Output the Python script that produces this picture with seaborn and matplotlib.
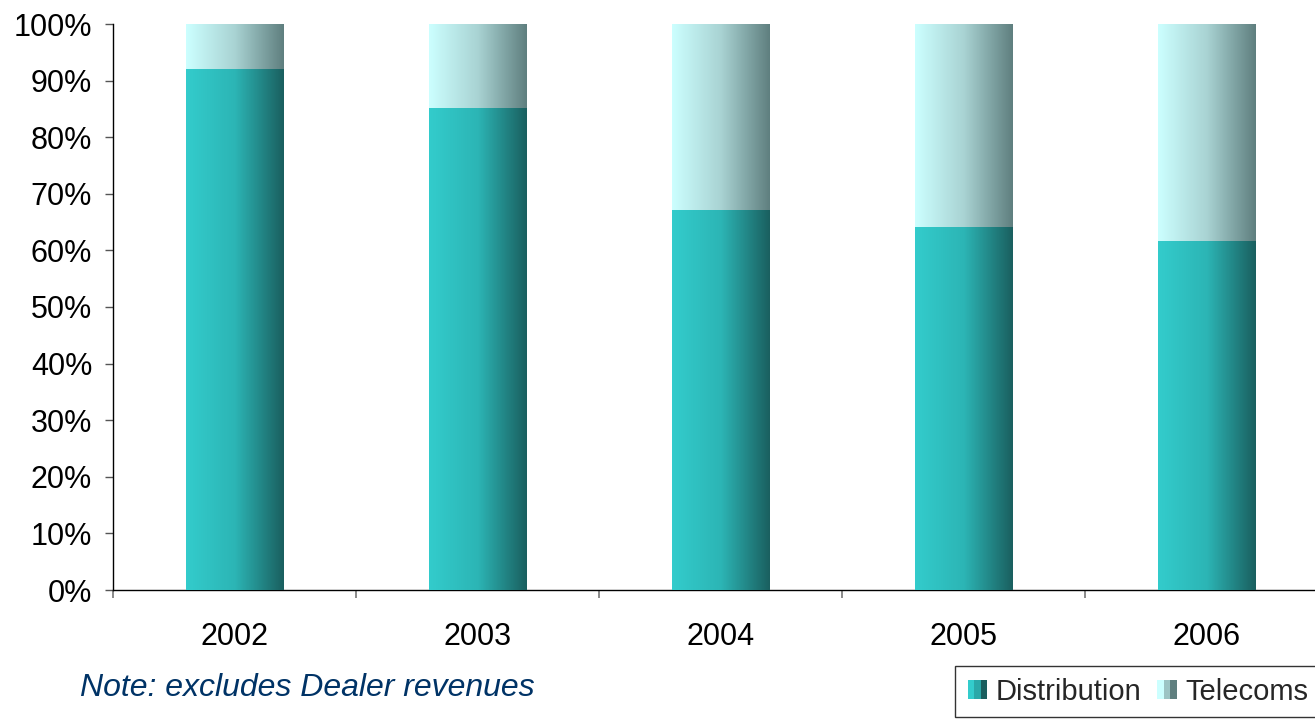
import numpy as np
import pandas as pd
import matplotlib
matplotlib.use("Agg")
import matplotlib.pyplot as plt
import seaborn as sns
from matplotlib.colors import LinearSegmentedColormap
from matplotlib.legend_handler import HandlerBase
from matplotlib.patches import Rectangle

# Revenue split by year (% of total, excluding Dealer revenues)
years = ["2002", "2003", "2004", "2005", "2006"]
distribution = [92, 85, 67, 64, 61.5]
telecoms = [8, 15, 33, 36, 38.5]
series_names = ["Distribution", "Telecoms"]
y_ticks = list(range(0, 101, 10))

dist_cmap = LinearSegmentedColormap.from_list("dist", ["#33CCCC", "#2CB5B5", "#1A5F5F"])
tel_cmap = LinearSegmentedColormap.from_list("tel", ["#CCFFFF", "#A9D3D3", "#5F7F7F"])

sns.set_theme(style="white")
plt.rcParams["font.family"] = ["Liberation Sans", "DejaVu Sans"]

fig = plt.figure(figsize=(13.15, 7.22), dpi=100)
ax = fig.add_axes([113 / 1315, 132 / 722, 1215 / 1315, 566 / 722])

df = pd.DataFrame({"year": years, "dist": distribution,
                   "total": np.array(distribution) + np.array(telecoms)})

sns.barplot(data=df, x="year", y="total", color="#CCFFFF", width=0.4, ax=ax)
n_tel = len(ax.patches)
sns.barplot(data=df, x="year", y="dist", color="#33CCCC", width=0.4, ax=ax)

# Replace flat fills with horizontal gradients clipped to each bar
grad = np.linspace(0, 1, 256).reshape(1, -1)
for i, p in enumerate(ax.patches):
    cmap = tel_cmap if i < n_tel else dist_cmap
    x0, y0 = p.get_x(), p.get_y()
    w, h = p.get_width(), p.get_height()
    ax.imshow(grad, cmap=cmap, aspect="auto", extent=(x0, x0 + w, y0, y0 + h),
              zorder=2 + (i >= n_tel), interpolation="bilinear")
    p.set_facecolor("none")
    p.set_edgecolor("none")

ax.set_xlim(-0.5, 4.5)
ax.set_ylim(0, 100)
ax.set_yticks(y_ticks)
ax.set_yticklabels([f"{t}%" for t in y_ticks])
ax.set_xlabel("")
ax.set_ylabel("")

for side in ["top", "right"]:
    ax.spines[side].set_visible(False)
for side in ["left", "bottom"]:
    ax.spines[side].set_color("black")
    ax.spines[side].set_linewidth(1.0)

ax.tick_params(axis="y", which="major", left=True, length=6, width=1,
               color="#555555", pad=9, labelsize=22, labelcolor="black")
ax.tick_params(axis="x", which="major", bottom=False, pad=17,
               labelsize=22, labelcolor="black")
ax.set_xticks(np.arange(-0.5, 5.0, 1.0), minor=True)
ax.tick_params(axis="x", which="minor", bottom=True, length=6, width=1.2,
               color="#777777")


class GradientSquare(HandlerBase):
    def __init__(self, colors):
        super().__init__()
        self.colors = colors

    def create_artists(self, legend, orig_handle, xdescent, ydescent,
                       width, height, fontsize, trans):
        size = height * 0.95
        x0 = -xdescent + width - size
        y0 = -ydescent + (height - size) / 2
        step = size / len(self.colors)
        arts = []
        for k, c in enumerate(self.colors):
            arts.append(Rectangle((x0 + k * step, y0), step, size,
                                  facecolor=c, edgecolor="none", transform=trans))
        return arts


h_dist = Rectangle((0, 0), 1, 1)
h_tel = Rectangle((0, 0), 1, 1)
leg = fig.legend([h_dist, h_tel], series_names,
                 handler_map={h_dist: GradientSquare(["#33CCCC", "#2AA8A8", "#1A5F5F"]),
                              h_tel: GradientSquare(["#CCFFFF", "#9CC4C4", "#5F7F7F"])},
                 loc="upper left", bbox_to_anchor=(955 / 1315, 1 - 666 / 722),
                 ncol=2, fontsize=21, frameon=True, fancybox=False,
                 handlelength=0.7, handletextpad=0.3, columnspacing=0.5,
                 borderpad=0.4, borderaxespad=0)
leg.get_frame().set_edgecolor("black")
leg.get_frame().set_linewidth(1.0)

fig.text(80 / 1315, 1 - 688 / 722, "Note: excludes Dealer revenues",
         fontsize=23, style="italic", color="#003366", va="center", ha="left")

fig.savefig("out.png", dpi=100)
